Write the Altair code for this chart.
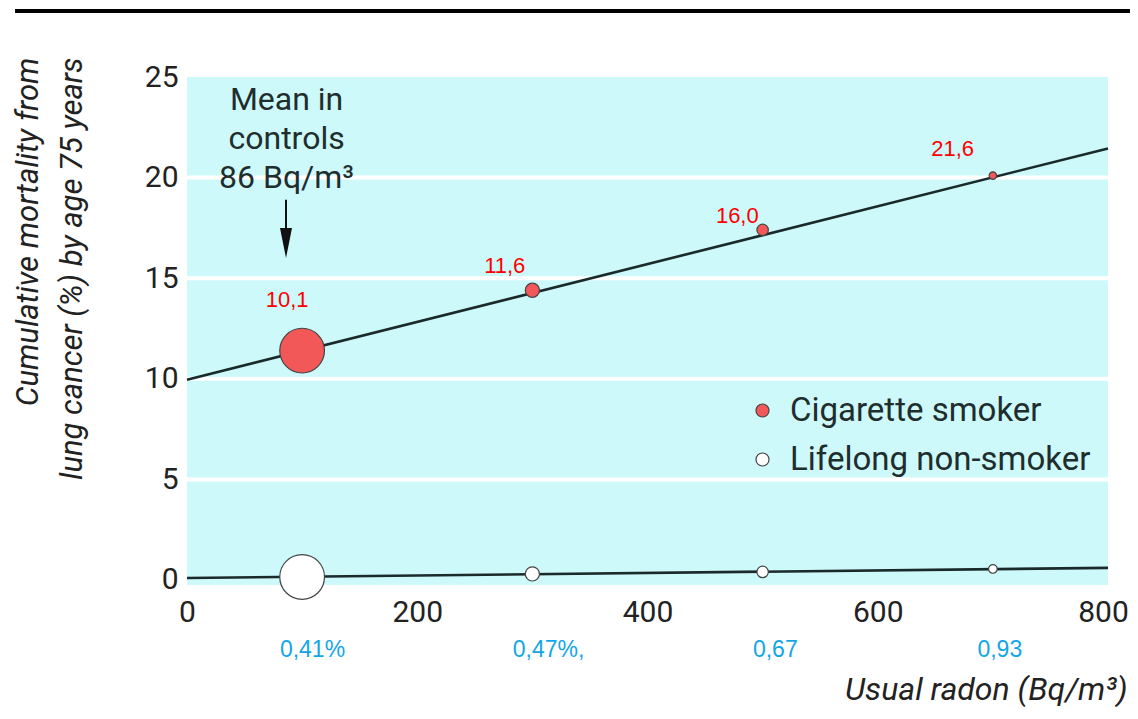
import altair as alt
import pandas as pd

# ---- data ----
series = ["Cigarette smoker", "Lifelong non-smoker"]
radon = [100, 300, 500, 700]
smoker = [11.4, 14.4, 17.4, 20.1]
nonsmoker = [0.15, 0.3, 0.4, 0.55]
weight_smoker = [2000, 200, 130, 55]
weight_nonsmoker = [2000, 200, 130, 75]

line_x = [0, 800]
smoker_line = [9.95, 21.45]
nonsmoker_line = [0.1, 0.6]

red_labels = ["10,1", "11,6", "16,0", "21,6"]
red_x = [87, 276, 478, 665]
red_y = [13.9, 15.6, 18.1, 21.4]

blue_labels = ["0,41%", "0,47%,", "0,67", "0,93"]
blue_x = [109, 314, 511, 706]
blue_y = [-3.5, -3.5, -3.5, -3.5]

grid_vals = [5, 10, 15, 20]
y_ticks = [0, 5, 10, 15, 20, 25]
x_ticks = [0, 200, 400, 600, 800]

annot_text = "Mean in\ncontrols\n86 Bq/m³"
annot_x = 86.5
annot_y = 23.85
arrow_x = 86
arrow_y = [18.9, 17.0]
arrow_head_y = 16.75

# ---- tables ----
pts = pd.DataFrame({
    "radon": radon * 2,
    "mort": smoker + nonsmoker,
    "w": weight_smoker + weight_nonsmoker,
    "group": [series[0]] * 4 + [series[1]] * 4,
})
lines = pd.DataFrame({
    "radon": line_x * 2,
    "mort": smoker_line + nonsmoker_line,
    "group": [series[0]] * 2 + [series[1]] * 2,
})
red_df = pd.DataFrame({"radon": red_x, "mort": red_y, "t": red_labels})
blue_df = pd.DataFrame({"radon": blue_x, "mort": blue_y, "t": blue_labels})
grid_df = pd.DataFrame({"mort": grid_vals})
annot_df = pd.DataFrame({"radon": [annot_x], "mort": [annot_y], "t": [annot_text]})
arrow_df = pd.DataFrame({"radon": [arrow_x], "mort": [arrow_y[0]], "mort2": [arrow_y[1]]})
head_df = pd.DataFrame({"radon": [arrow_x], "mort": [arrow_head_y]})

NARROW = "Roboto"
TXT = "#1f2d2d"

xs = alt.Scale(domain=[0, 800], nice=False, zero=False)
ys = alt.Scale(domain=[-0.25, 25], nice=False, zero=False)

x_axis = alt.Axis(
    values=x_ticks, labelFont=NARROW, labelFontSize=30, labelColor="#222",
    ticks=False, domain=False, grid=False, labelPadding=12, labelFlush=False,
    labelOffset=alt.condition("datum.value == 800", alt.value(-5), alt.value(0)),
    title="Usual radon (Bq/m³)", titleFont=NARROW, titleFontSize=32,
    titleFontStyle="italic", titleFontWeight="normal", titleColor="#222",
    titleAlign="right", titleAnchor="end", titleX=940, titleY=104,
    titleBaseline="middle",
)
y_axis = alt.Axis(
    values=y_ticks, labelFont=NARROW, labelFontSize=30, labelColor="#222",
    ticks=False, domain=False, grid=False, labelPadding=9,
    title=["Cumulative mortality from", "lung cancer (%) by age 75 years"],
    titleFont=NARROW, titleFontSize=31, titleFontStyle="italic",
    titleFontWeight="normal", titleColor="#222", titleAngle=-90,
    titleAlign="right", titleBaseline="top", titleX=-174, titleY=-20,
    titleLineHeight=44,
)


def X():
    return alt.X("radon:Q", scale=xs, axis=x_axis)


def Y():
    return alt.Y("mort:Q", scale=ys, axis=y_axis)


grid = alt.Chart(grid_df).mark_rule(color="white", strokeWidth=4).encode(y=Y())

line_layer = alt.Chart(lines).mark_line(color="#1a2929", strokeWidth=2.6).encode(
    x=X(), y=Y(), detail="group:N",
)

point_layer = alt.Chart(pts).mark_point(
    filled=True, stroke="#444", strokeWidth=1.2, opacity=1
).encode(
    x=X(), y=Y(),
    size=alt.Size("w:Q", scale=None, legend=None),
    fill=alt.Fill(
        "group:N",
        scale=alt.Scale(domain=series, range=["#f25858", "#ffffff"]),
        legend=alt.Legend(
            title=None, orient="none", legendX=559, legendY=317,
            labelFont=NARROW, labelFontSize=33, labelColor=TXT, labelLimit=0,
            symbolType="circle", symbolSize=170, symbolStrokeColor="#444",
            symbolStrokeWidth=1.2, labelOffset=11, rowPadding=15,
            padding=0, symbolOpacity=1,
        ),
    ),
)

red_layer = alt.Chart(red_df).mark_text(
    color="#ff0000", fontSize=22, font="Liberation Sans",
    baseline="middle", align="center",
).encode(x=X(), y=Y(), text="t:N")

blue_layer = alt.Chart(blue_df).mark_text(
    color="#12a6e8", fontSize=23, font="Liberation Sans",
    baseline="middle", align="center",
).encode(x=X(), y=Y(), text="t:N")

annot_layer = alt.Chart(annot_df).mark_text(
    color=TXT, fontSize=32, font=NARROW, lineBreak="\n", lineHeight=39,
    baseline="middle", align="center",
).encode(x=X(), y=Y(), text="t:N")

arrow_layer = alt.Chart(arrow_df).mark_rule(color="#111", strokeWidth=2).encode(
    x=X(), y=Y(), y2="mort2:Q",
)

head_layer = alt.Chart(head_df).mark_point(
    shape="M-0.4,-1L0.4,-1L0,1Z", filled=True, color="#111", size=900, opacity=1
).encode(x=X(), y=Y())

top_rule = alt.Chart(grid_df).mark_rule(color="#000", strokeWidth=4).encode(
    x=alt.value(-172), x2=alt.value(960), y=alt.value(-66)
)

chart = alt.layer(
    grid, line_layer, point_layer, red_layer, blue_layer,
    annot_layer, arrow_layer, head_layer, top_rule,
).properties(
    width=921, height=508,
    autosize=alt.AutoSizeParams(type="none"),
    padding={"left": 179, "top": 69, "right": 22, "bottom": 122},
    background="white",
).configure_view(
    fill="#cdf9fb", stroke=None
)

chart.save("out.html", embed_options={"renderer": "svg", "actions": False})
